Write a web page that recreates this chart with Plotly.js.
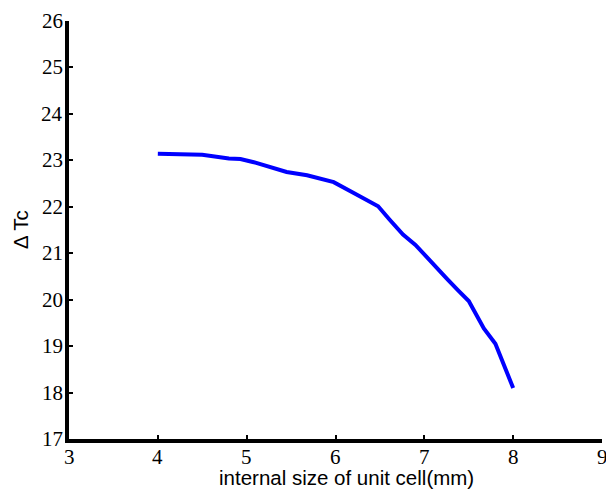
<!DOCTYPE html>
<html>
<head>
<meta charset="utf-8">
<script src="https://cdn.plot.ly/plotly-3.0.1.min.js"></script>
<style>html,body{margin:0;padding:0;background:#fff;}#chart{width:606px;height:495px;}</style>
</head>
<body>
<div id="chart"></div>
<script>
const cellSize = [4.0, 4.2, 4.3, 4.5, 4.8, 4.93, 5.08, 5.45, 5.68, 5.98, 6.2, 6.48, 6.61, 6.76, 6.9, 7.07, 7.25, 7.38, 7.5, 7.67, 7.8, 8.0];
const deltaTc = [23.14, 23.14, 23.12, 23.12, 23.04, 23.03, 22.96, 22.75, 22.68, 22.53, 22.3, 22.01, 21.72, 21.4, 21.18, 20.82, 20.46, 20.2, 19.97, 19.38, 19.05, 18.1];
const xTicks = [3, 4, 5, 6, 7, 8, 9];
const yTicks = [17, 18, 19, 20, 21, 22, 23, 24, 25, 26];
const xTitle = 'internal size of unit cell(mm)';
const yTitle = 'Δ Tc';

const trace = {
  x: cellSize, y: deltaTc, type: 'scatter', mode: 'lines',
  line: {color: '#0000ff', width: 4}
};

// tick labels placed through the axes' own scales (xref 'x' / yref 'y')
const xTickLabels = xTicks.map(v => ({
  xref: 'x', yref: 'paper', x: v, y: 0, xanchor: 'center', yanchor: 'middle',
  yshift: -18, text: String(v), showarrow: false,
  font: {family: 'Liberation Serif', size: 21}
}));
const yTickLabels = yTicks.map(v => ({
  xref: 'paper', yref: 'y', x: 0, y: v, xanchor: 'right', yanchor: 'middle',
  xshift: -4, text: String(v), showarrow: false,
  font: {family: 'Liberation Serif', size: 21}
}));

const layout = {
  width: 606, height: 495,
  margin: {l: 69, r: 4, t: 21, b: 56},
  font: {family: 'Liberation Serif', size: 21, color: '#000'},
  paper_bgcolor: '#fff', plot_bgcolor: '#fff',
  showlegend: false,
  annotations: [
    ...xTickLabels,
    ...yTickLabels,
    {xref: 'paper', yref: 'paper', x: 0.52, y: 0, xanchor: 'center', yanchor: 'middle',
     yshift: -38, text: xTitle, showarrow: false, font: {family: 'Liberation Sans', size: 20.5}},
    {xref: 'paper', yref: 'paper', x: 0, y: 0.5, xanchor: 'center', yanchor: 'middle',
     xshift: -49, textangle: -90, text: yTitle, showarrow: false, font: {family: 'Liberation Sans', size: 20.5}}
  ],
  xaxis: {
    range: [3, 9], tickvals: xTicks, showticklabels: false,
    showgrid: false, zeroline: false, showline: true, linecolor: '#000', linewidth: 4,
    ticks: 'inside', ticklen: 4, tickwidth: 2, tickcolor: '#000'
  },
  yaxis: {
    range: [17, 26], tickvals: yTicks, showticklabels: false,
    showgrid: false, zeroline: false, showline: true, linecolor: '#000', linewidth: 4,
    ticks: 'inside', ticklen: 4, tickwidth: 2, tickcolor: '#000'
  }
};
Plotly.newPlot('chart', [trace], layout, {displayModeBar: false, staticPlot: true});
</script>
</body>
</html>
